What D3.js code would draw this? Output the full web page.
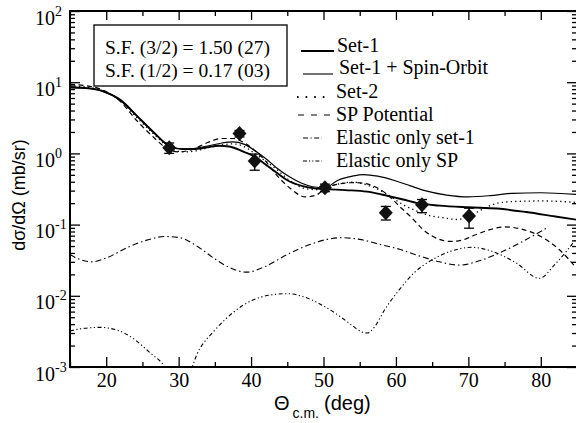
<!DOCTYPE html>
<html><head><meta charset="utf-8">
<script src="https://cdn.jsdelivr.net/npm/d3@7"></script>
<style>html,body{margin:0;padding:0;background:#fff;}svg{display:block;}</style>
</head><body>
<svg id="chart" width="576" height="423"></svg>
<script>
// ---- data ----
const xTicks = [20, 30, 40, 50, 60, 70, 80];
const xMinorTicks = [15, 25, 35, 45, 55, 65, 75, 85];
const yTickExps = [-3, -2, -1, 0, 1, 2];

const dataAngle = [28.7, 38.4, 40.5, 50.2, 58.6, 63.6, 70.1];
const dataValue = [1.2, 1.9, 0.78, 0.33, 0.147, 0.19, 0.132];
const dataErrLow = [1.0, 1.7, 0.58, 0.29, 0.116, 0.147, 0.089];
const dataErrHigh = [1.4, 2.1, 0.98, 0.37, 0.18, 0.225, 0.17];

const set1Angle = [15,17,19.5,22,24.2,26.5,28.8,30.5,32,34,35.5,37,39,40.5,42,43.5,45,47,48.5,50.2,53,56,58,61,63,66,70,74,78,82,85];
const set1Value = [8.5,8.3,7.5,5.6,3.4,2.0,1.26,1.15,1.15,1.22,1.28,1.25,1.05,0.9,0.7,0.54,0.42,0.35,0.325,0.315,0.305,0.29,0.265,0.225,0.2,0.185,0.175,0.168,0.15,0.13,0.117];

const soAngle = [15,17,19.5,22,24.2,26.5,28.8,30.5,32,34,36,37.5,39,40.5,42,43.5,45.3,47,48.5,50.2,52,54,55.5,57.5,60,62,64,67,70,73,76,80,85];
const soValue = [8.4,8.3,7.5,5.5,3.4,2.0,1.25,1.16,1.17,1.27,1.4,1.45,1.35,1.1,0.85,0.63,0.47,0.38,0.34,0.33,0.42,0.48,0.505,0.48,0.41,0.35,0.3,0.26,0.245,0.255,0.275,0.28,0.265];

const set2Angle = [15,17,19.5,22,24.2,26.5,28.8,30.5,32,34,36,37.5,39,40.5,42,43.5,45.3,47.5,49,50.2,52,54,56,58.7,61,62.9,64.5,66.5,68.4,70,72,74,76,80,85];
const set2Value = [8.9,8.6,7.6,5.5,3.2,1.9,1.2,1.05,1.07,1.2,1.32,1.36,1.25,1.0,0.78,0.6,0.42,0.32,0.31,0.33,0.37,0.395,0.36,0.27,0.19,0.155,0.135,0.125,0.118,0.13,0.165,0.2,0.21,0.215,0.205];

const spAngle = [15,17,19.5,22,24.2,26.5,28.5,30,32,34,36,37.5,39,40.5,42,43.5,45.3,47.5,49,50.2,52,54.5,56.5,58.7,60.5,62,64.2,66,67.5,69,71,73,75,77,80,82.5,85];
const spValue = [9.3,9.0,7.8,5.3,2.9,1.7,1.15,1.05,1.15,1.42,1.62,1.62,1.42,1.1,0.78,0.5,0.33,0.245,0.26,0.32,0.37,0.39,0.36,0.27,0.18,0.13,0.078,0.062,0.058,0.06,0.072,0.085,0.093,0.088,0.068,0.045,0.024];

const el1Angle = [15,16.5,18,20,23,25.5,28,30,32.9,35,37,39.4,42,45,48,50.5,52.6,55,58,60.5,63,66,68.8,71.5,74.3,77.5,81];
const el1Value = [0.038,0.032,0.030,0.034,0.048,0.06,0.068,0.066,0.047,0.033,0.025,0.0215,0.026,0.038,0.052,0.062,0.0655,0.062,0.052,0.045,0.037,0.03,0.027,0.031,0.040,0.058,0.092];

const elSpAngle = [15,17,19.1,21.5,24,26,28.1,30,32.9,35,37.5,40,42.5,45,47.5,50,52.2,54,55.3,56.1,57,58.5,60.5,62.5,65,67.5,70.5,73,76.6,79.8,82,85];
const elSpValue = [0.0032,0.0035,0.0036,0.0033,0.0024,0.0016,0.001,0.0004,0.0018,0.0033,0.0058,0.0085,0.0102,0.0107,0.0095,0.0072,0.0052,0.0038,0.0031,0.003,0.0036,0.0065,0.0123,0.021,0.032,0.042,0.048,0.043,0.029,0.0176,0.028,0.065];

const boxLines = ["S.F. (3/2) = 1.50 (27)", "S.F. (1/2) = 0.17 (03)"];
const legendLabels = ["Set-1", "Set-1 + Spin-Orbit", "Set-2", "SP Potential", "Elastic only set-1", "Elastic only SP"];

// ---- layout ----
const L = 70, R = 577, T = 11, B = 367;
const svg = d3.select("#chart");
const x = d3.scaleLinear().domain([15, 85]).range([L, R]);
const y = d3.scaleLog().domain([1e-3, 1e2]).range([B, T]);
const serif = "'Liberation Serif','Times New Roman',serif";
const sans = "'Liberation Sans',Arial,sans-serif";

svg.append("defs").append("clipPath").attr("id", "clip")
  .append("rect").attr("x", L).attr("y", T).attr("width", R - L).attr("height", B - T);

function styleAxis(g) {
  g.select(".domain").remove();
  g.selectAll(".tick line").attr("stroke", "#000").attr("stroke-width", 1.3);
}
const yMajor = yTickExps.map(e => Math.pow(10, e));
const yMinor = [];
yTickExps.slice(0, -1).forEach(e => { for (let k = 2; k <= 9; k++) yMinor.push(k * Math.pow(10, e)); });

svg.append("g").attr("transform", `translate(0,${B})`)
  .call(d3.axisBottom(x).tickValues(xTicks).tickSize(-10).tickPadding(6).tickFormat(d3.format("d")))
  .call(styleAxis)
  .call(g => g.selectAll("text").attr("font-family", serif).attr("font-size", 20).attr("fill", "#000"));
svg.append("g").attr("transform", `translate(0,${B})`)
  .call(d3.axisBottom(x).tickValues(xMinorTicks).tickSize(-5).tickFormat("")).call(styleAxis);
svg.append("g").attr("transform", `translate(0,${T})`)
  .call(d3.axisTop(x).tickValues(xTicks).tickSize(-9).tickFormat("")).call(styleAxis);
svg.append("g").attr("transform", `translate(0,${T})`)
  .call(d3.axisTop(x).tickValues(xMinorTicks).tickSize(-5).tickFormat("")).call(styleAxis);
svg.append("g").attr("transform", `translate(${L},0)`)
  .call(d3.axisLeft(y).tickValues(yMajor).tickSize(-10).tickFormat("")).call(styleAxis);
svg.append("g").attr("transform", `translate(${L},0)`)
  .call(d3.axisLeft(y).tickValues(yMinor).tickSize(-5).tickFormat("")).call(styleAxis);
svg.append("g").attr("transform", `translate(${R},0)`)
  .call(d3.axisRight(y).tickValues(yMajor).tickSize(-10).tickFormat("")).call(styleAxis);
svg.append("g").attr("transform", `translate(${R},0)`)
  .call(d3.axisRight(y).tickValues(yMinor).tickSize(-5).tickFormat("")).call(styleAxis);

// y tick labels with superscripts
const yl = svg.append("g");
yTickExps.forEach(e => {
  const yy = y(Math.pow(10, e));
  const t = yl.append("text").attr("x", 35).attr("y", yy + 13.5)
    .attr("font-family", serif).attr("font-size", 20).attr("fill", "#000");
  t.append("tspan").text("10");
  t.append("tspan").attr("font-size", 14).attr("dy", -9).text(String(e));
});

// frame
svg.append("rect").attr("x", L).attr("y", T).attr("width", R - L).attr("height", B - T)
  .attr("fill", "none").attr("stroke", "#000").attr("stroke-width", 2);

// curves
const line = d3.line().x(d => x(d[0])).y(d => y(d[1])).curve(d3.curveMonotoneX);
const curves = [
  {a: set1Angle, v: set1Value, w: 1.9, dash: null},
  {a: soAngle, v: soValue, w: 1.2, dash: null},
  {a: set2Angle, v: set2Value, w: 1.3, dash: "1.3,3.2"},
  {a: spAngle, v: spValue, w: 1.2, dash: "5,3.5"},
  {a: el1Angle, v: el1Value, w: 1.1, dash: "6,3,1.5,3"},
  {a: elSpAngle, v: elSpValue, w: 1.1, dash: "4,2.5,1.2,2.5,1.2,2.5"}
];
const cg = svg.append("g").attr("clip-path", "url(#clip)");
curves.forEach(c => {
  cg.append("path").datum(d3.zip(c.a, c.v)).attr("d", line)
    .attr("fill", "none").attr("stroke", "#000").attr("stroke-width", c.w)
    .attr("stroke-dasharray", c.dash);
});

// data points
const pg = svg.append("g");
dataAngle.forEach((a, i) => {
  const px = x(a);
  pg.append("line").attr("x1", px).attr("x2", px).attr("y1", y(dataErrLow[i])).attr("y2", y(dataErrHigh[i]))
    .attr("stroke", "#000").attr("stroke-width", 1.3);
  [dataErrLow[i], dataErrHigh[i]].forEach(v => {
    pg.append("line").attr("x1", px - 5).attr("x2", px + 5).attr("y1", y(v)).attr("y2", y(v))
      .attr("stroke", "#000").attr("stroke-width", 1.3);
  });
  const py = y(dataValue[i]);
  pg.append("path").attr("d", `M${px},${py - 7.5}L${px + 7},${py}L${px},${py + 7.5}L${px - 7},${py}Z`)
    .attr("fill", "#111");
});

// S.F. box
svg.append("rect").attr("x", 94).attr("y", 25).attr("width", 193).attr("height", 61)
  .attr("fill", "#fff").attr("stroke", "#000").attr("stroke-width", 1.3);
boxLines.forEach((s, i) => {
  svg.append("text").attr("x", 105).attr("y", 53.5 + i * 23).attr("font-family", serif)
    .attr("font-size", 19.5).attr("fill", "#000").text(s);
});

// legend
const lg = svg.append("g");
const legRows = [
  {ty: 51.5, ly: 51, x1: 301, x2: 334, w: 2, dash: null, tx: 337},
  {ty: 74, ly: 74, x1: 303, x2: 333, w: 1.1, dash: null, tx: 339},
  {ty: 98, ly: 97, x1: 297, x2: 330, w: 2, dash: "1.6,7", tx: 336},
  {ty: 120.5, ly: 115, x1: 298, x2: 333, w: 1.2, dash: "6,7", tx: 336},
  {ty: 144, ly: 138, x1: 303, x2: 322, w: 1, dash: "5,2.5,1.2,2.5", tx: 336},
  {ty: 167, ly: 161, x1: 303, x2: 322, w: 1, dash: "4,2,1.2,2,1.2,2", tx: 336}
];
legRows.forEach((r, i) => {
  lg.append("line").attr("x1", r.x1).attr("x2", r.x2).attr("y1", r.ly).attr("y2", r.ly)
    .attr("stroke", "#000").attr("stroke-width", r.w).attr("stroke-dasharray", r.dash);
  lg.append("text").attr("x", r.tx).attr("y", r.ty).attr("font-family", serif)
    .attr("font-size", 20).attr("fill", "#000").text(legendLabels[i]);
});

// axis titles
svg.append("text").attr("transform", "translate(25,195) rotate(-90)").attr("text-anchor", "middle")
  .attr("font-family", sans).attr("font-size", 18).attr("fill", "#000").text("dσ/dΩ (mb/sr)");
const xt = svg.append("text").attr("x", 274).attr("y", 410).attr("font-family", sans)
  .attr("font-size", 20).attr("fill", "#000");
xt.append("tspan").text("Θ");
xt.append("tspan").attr("font-size", 14).attr("dx", 3).attr("dy", 8).text("c.m.");
xt.append("tspan").attr("dx", 5).attr("dy", -8).text("(deg)");
</script>
</body></html>
